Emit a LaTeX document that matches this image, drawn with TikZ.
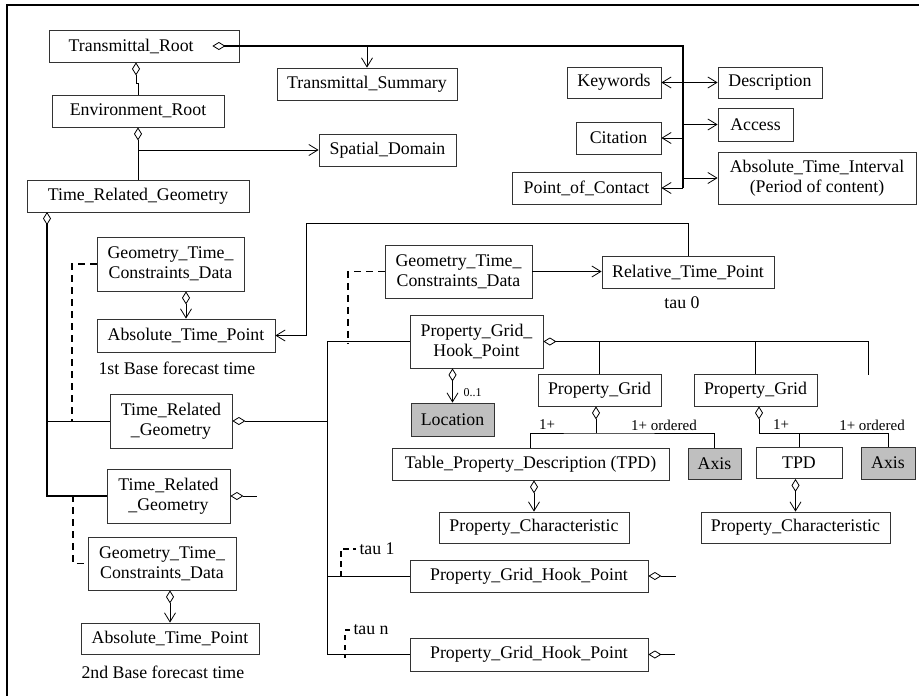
\documentclass[tikz,border=0pt]{standalone}
\usepackage{fontspec}
\setmainfont{Liberation Serif}
\usetikzlibrary{arrows.meta,calc}
\begin{document}
\begin{tikzpicture}[x=1pt,y=-1pt,
  every node/.style={font=\fontsize{17.8}{20}\selectfont},
  bx/.style 2 args={draw=black!80,line width=0.8pt,minimum width=#1,minimum height=#2,inner sep=0pt,align=center},
  gbx/.style 2 args={bx={#1}{#2},fill=black!25},
  ln/.style={line width=0.8pt},
  thk/.style={line width=1.7pt},
  arr/.style={-{Straight Barb[length=9pt,width=11pt,line width=0.8pt]}},
  dia/.style={{Diamond[open,length=13pt,width=8pt,line width=0.8pt]}-},
  diarr/.style={{Diamond[open,length=13pt,width=8pt,line width=0.8pt]}-{Straight Barb[length=9pt,width=11pt,line width=0.8pt]}},
  dsh/.style={line width=1.8pt,dash pattern=on 7pt off 5pt},
  small/.style={font=\fontsize{12}{14}\selectfont},
  mult/.style={font=\fontsize{15}{17}\selectfont}]
\useasboundingbox (0,0) rectangle (919,696);
% frame
\draw[line width=2.4pt] (7,696) -- (7,5) -- (919,5);

% nodes
\node[bx={190pt}{32pt}] (tr) at (144,46) {Transmittal\_Root\phantom{XX}};
\node[bx={180pt}{32pt}] (ts) at (367,84) {Transmittal\_Summary};
\node[bx={172pt}{32pt}] (env) at (138,111) {Environment\_Root};
\node[bx={137pt}{32pt}] (sd) at (387.5,150) {Spatial\_Domain};
\node[bx={222pt}{32pt}] (trg1) at (138,196) {Time\_Related\_Geometry};
\node[bx={147pt}{54pt}] (gtcd1) at (170.5,264) {Geometry\_Time\_\\Constraints\_Data};
\node[bx={178pt}{33pt}] (atp1) at (186,335.5) {Absolute\_Time\_Point};
\node[anchor=west] (lbl1) at (95,368) {1st Base forecast time};
\node[bx={122pt}{54pt}] (trg2) at (171,421) {Time\_Related\\\_Geometry};
\node[bx={123pt}{54pt}] (trg3) at (168.5,496) {Time\_Related\\\_Geometry};
\node[bx={148pt}{53pt}] (gtcd3) at (162,563.5) {Geometry\_Time\_\\Constraints\_Data};
\node[bx={178pt}{31pt}] (atp2) at (170,638.5) {Absolute\_Time\_Point};
\node[anchor=west] (lbl2) at (78,672) {2nd Base forecast time};

\node[bx={147pt}{53pt}] (gtcd2) at (458.5,271.5) {Geometry\_Time\_\\Constraints\_Data};
\node[bx={172pt}{32pt}] (rtp) at (688,272) {Relative\_Time\_Point};
\node (tau0) at (682,303) {tau 0};
\node[bx={133pt}{53pt}] (pghp) at (476.5,341.5) {Property\_Grid\_\\Hook\_Point};
\node[gbx={83pt}{33pt}] (loc) at (452.5,419.5) {Location};
\node[small,anchor=west] (m01) at (460,393) {0..1};
\node[bx={123pt}{32pt}] (pg1) at (599.5,390) {Property\_Grid};
\node[bx={123pt}{32pt}] (pg2) at (755.5,390) {Property\_Grid};
\node[bx={277pt}{32pt}] (tpd) at (530.5,464) {Table\_Property\_Description (TPD)};
\node[gbx={53pt}{31pt}] (ax1) at (714.5,463.5) {Axis};
\node[bx={86pt}{31pt}] (tpd2) at (799,463) {TPD};
\node[gbx={54pt}{32pt}] (ax2) at (888,463) {Axis};
\node[bx={190pt}{31pt}] (pc1) at (534,527.5) {Property\_Characteristic};
\node[bx={189pt}{31pt}] (pc2) at (795.5,527.5) {Property\_Characteristic};
\node[bx={238pt}{32pt}] (pghp1) at (529,576) {Property\_Grid\_Hook\_Point};
\node[bx={238pt}{33pt}] (pghpn) at (529,654.5) {Property\_Grid\_Hook\_Point};
\node[mult] (m1) at (547,425) {1+};
\node[mult] (m2) at (664,425) {1+ ordered};
\node[mult] (m3) at (781,425) {1+};
\node[mult] (m4) at (872,425) {1+ ordered};
\node[anchor=west] (tau1) at (356,549) {tau 1};
\node[anchor=west] (taun) at (350,630) {tau n};

\node[bx={94pt}{31pt}] (kw) at (614,82.5) {Keywords};
\node[bx={104pt}{31pt}] (desc) at (770,82.5) {Description};
\node[bx={75pt}{33pt}] (acc) at (755.5,124.5) {Access};
\node[bx={85pt}{32pt}] (cit) at (618.5,138) {Citation};
\node[bx={198pt}{52pt}] (ati) at (817,178) {Absolute\_Time\_Interval\\(Period of content)};
\node[bx={149pt}{32pt}] (poc) at (586.5,188) {Point\_of\_Contact};

% coordinates
\coordinate (trd) at ($(tr.east)+(-27,0)$);
\coordinate (vtop) at (683,46);
\coordinate (c1) at (47,212);
\coordinate (d1) at (72,421);
\coordinate (r1) at (306,223);
\coordinate (v2top) at (327,341.5);
\coordinate (d2) at (348,344);
\coordinate (pgend) at (868,375);
\coordinate (h1) at (596,433);
\coordinate (h2) at (759,433);
\coordinate (e1) at (676,576);
\coordinate (en) at (675,654.5);
\coordinate (e3) at (257,496);
\coordinate (d3) at (73,495);
\coordinate (t1) at (341,577);
\coordinate (tn) at (345,658);

% top connectors
\draw[thk,{Diamond[open,length=13pt,width=8pt,line width=0.8pt]}-] (trd) -- (vtop) -- (vtop |- poc.east);
\draw[ln,arr] (vtop |- poc.east) -- (poc.east);
\draw[ln,arr] (ts.north |- vtop) -- (ts.north);
\draw[ln,arr] (vtop |- kw.east) -- (kw.east);
\draw[ln,arr] (vtop |- desc.west) -- (desc.west);
\draw[ln,arr] (vtop |- acc.west) -- (acc.west);
\draw[ln,arr] (vtop |- cit.east) -- (cit.east);
\draw[ln,arr] (vtop |- ati.west) -- (ati.west);

\draw[ln,dia] ($(tr.south)+(-8,0)$) -- ++(0,21) -| (env.north);
\draw[ln,dia] (env.south) -- (trg1.north);
\draw[ln,arr] (env.south |- sd.west) -- (sd.west);

% left column
\draw[line width=1.2pt,dia] (c1) |- (trg3.west);
\draw[ln] (c1 |- trg2.west) -- (trg2.west);
\draw[dsh] (gtcd1.west) -| (d1);
\draw[ln,diarr] (atp1.north |- gtcd1.south) -- (atp1.north);
\draw[ln,arr] (rtp.north) |- (r1) |- (atp1.east);
\draw[ln,dia] (trg2.east) -- (v2top |- trg2.east);
\draw[ln,dia] (trg3.east) -- (e3);
\draw[dsh] (d3) |- (gtcd3.west);
\draw[ln,diarr] (atp2.north |- gtcd3.south) -- (atp2.north);

% middle
\draw[ln] (pghp.west) -- (v2top) |- (pghpn.west);
\draw[ln] (v2top |- pghp1.west) -- (pghp1.west);
\draw[dsh] (gtcd2.west) -| (d2);
\draw[ln,arr] (gtcd2.east) -- (gtcd2.east -| rtp.west);
\draw[ln,dia] (pghp.east) -- (pgend |- pghp.east) -- (pgend);
\draw[ln] (pg1.north |- pghp.east) -- (pg1.north);
\draw[ln] (pg2.north |- pghp.east) -- (pg2.north);
\draw[ln,diarr] (loc.north |- pghp.south) -- (loc.north);
\draw[ln,dia] (pg1.south -| h1) -- (h1);
\draw[ln] (tpd.north) |- (h1) -| (ax1.north);
\draw[ln,dia] (pg2.south -| h2) -- (h2) -| (ax2.north);
\draw[ln] (tpd2.north) -- (tpd2.north |- h2);
\draw[ln,diarr] (pc1.north |- tpd.south) -- (pc1.north);
\draw[ln,diarr] (pc2.north |- tpd2.south) -- (pc2.north);
\draw[ln,dia] (pghp1.east) -- (e1);
\draw[ln,dia] (pghpn.east) -- (en);
\draw[dsh,dash pattern=on 6pt off 4pt] (t1) |- (tau1.west);
\draw[dsh,dash pattern=on 5pt off 5pt] (taun.west) -| (tn);
\end{tikzpicture}
\end{document}
